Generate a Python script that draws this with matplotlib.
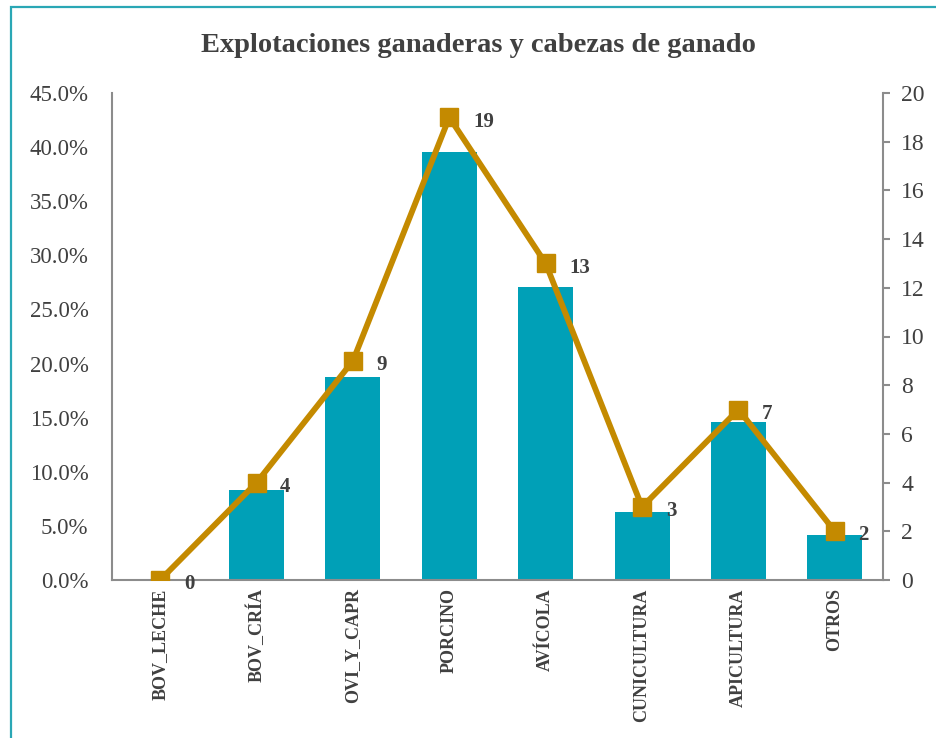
import matplotlib.pyplot as plt
from matplotlib.patches import Rectangle
import numpy as np

# ── Données ──
categorias = ["BOV_LECHE", "BOV_CRÍA", "OVI_Y_CAPR", "PORCINO",
              "AVÍCOLA", "CUNICULTURA", "APICULTURA", "OTROS"]
pct_explotaciones = [0.0, 8.33, 18.75, 39.58, 27.08, 6.25, 14.58, 4.17]
cabezas = [0, 4, 9, 19, 13, 3, 7, 2]
ticks_pct = [0, 5, 10, 15, 20, 25, 30, 35, 40, 45]
ticks_der = [0, 2, 4, 6, 8, 10, 12, 14, 16, 18, 20]

COL_BAR = "#00A0B7"
COL_LINE = "#C48A00"
COL_AXIS = "#8C8C8C"
COL_TXT = "#404040"
FONT = "Liberation Serif"

fig = plt.figure(figsize=(9.36, 7.38), dpi=100)

# marco exterior
fig.patches.append(Rectangle((11 / 936, -0.05), 1.1, 1.05 - 7 / 738,
                             transform=fig.transFigure, fill=False,
                             edgecolor="#2AA7B5", linewidth=1.6))

ax = fig.add_axes([112 / 936, 1 - 580 / 738, (883 - 112) / 936, (580 - 93) / 738])
x = np.arange(len(categorias))

ax.bar(x, np.array(pct_explotaciones) / 100, width=0.57, color=COL_BAR, zorder=2)
ax.set_xlim(-0.5, len(categorias) - 0.5)
ax.set_ylim(0, 0.45)
ax.set_yticks([t / 100 for t in ticks_pct])
ax.set_yticklabels([f"{t:.1f}%" for t in ticks_pct], fontsize=16.5,
                   family=FONT, color=COL_TXT)
ax.tick_params(axis="y", length=0, pad=17)
ax.set_xticks(x)
ax.set_xticklabels(categorias, rotation=90, fontsize=13, fontweight="bold",
                   family=FONT, color=COL_TXT)
ax.tick_params(axis="x", length=0, pad=6)

for s in ["top", "right"]:
    ax.spines[s].set_visible(False)
for s in ["left", "bottom"]:
    ax.spines[s].set_color(COL_AXIS)
    ax.spines[s].set_linewidth(1.5)

# ── Eje derecho: cabezas de ganado ──
ax2 = ax.twinx()
ax2.plot(x, cabezas, color=COL_LINE, linewidth=4.2, marker="s",
         markersize=13, zorder=3)
ax2.set_ylim(0, 20)
ax2.set_yticks(ticks_der)
ax2.set_yticklabels([str(t) for t in ticks_der], fontsize=17,
                    family=FONT, color=COL_TXT)
ax2.tick_params(axis="y", length=5, width=1.5, color=COL_AXIS, pad=8)
for s in ["top", "left", "bottom"]:
    ax2.spines[s].set_visible(False)
ax2.spines["right"].set_color(COL_AXIS)
ax2.spines["right"].set_linewidth(1.5)

for xi, v in zip(x, cabezas):
    ax2.annotate(str(v), (xi, v), xytext=(17, -3), textcoords="offset points",
                 ha="left", va="center", fontsize=15, fontweight="bold",
                 family=FONT, color=COL_TXT, annotation_clip=False)

fig.text(478 / 936, 1 - 45 / 738, "Explotaciones ganaderas y cabezas de ganado",
         ha="center", va="center", fontsize=20.5, fontweight="bold",
         family=FONT, color=COL_TXT)

fig.savefig("out.png", dpi=100)
